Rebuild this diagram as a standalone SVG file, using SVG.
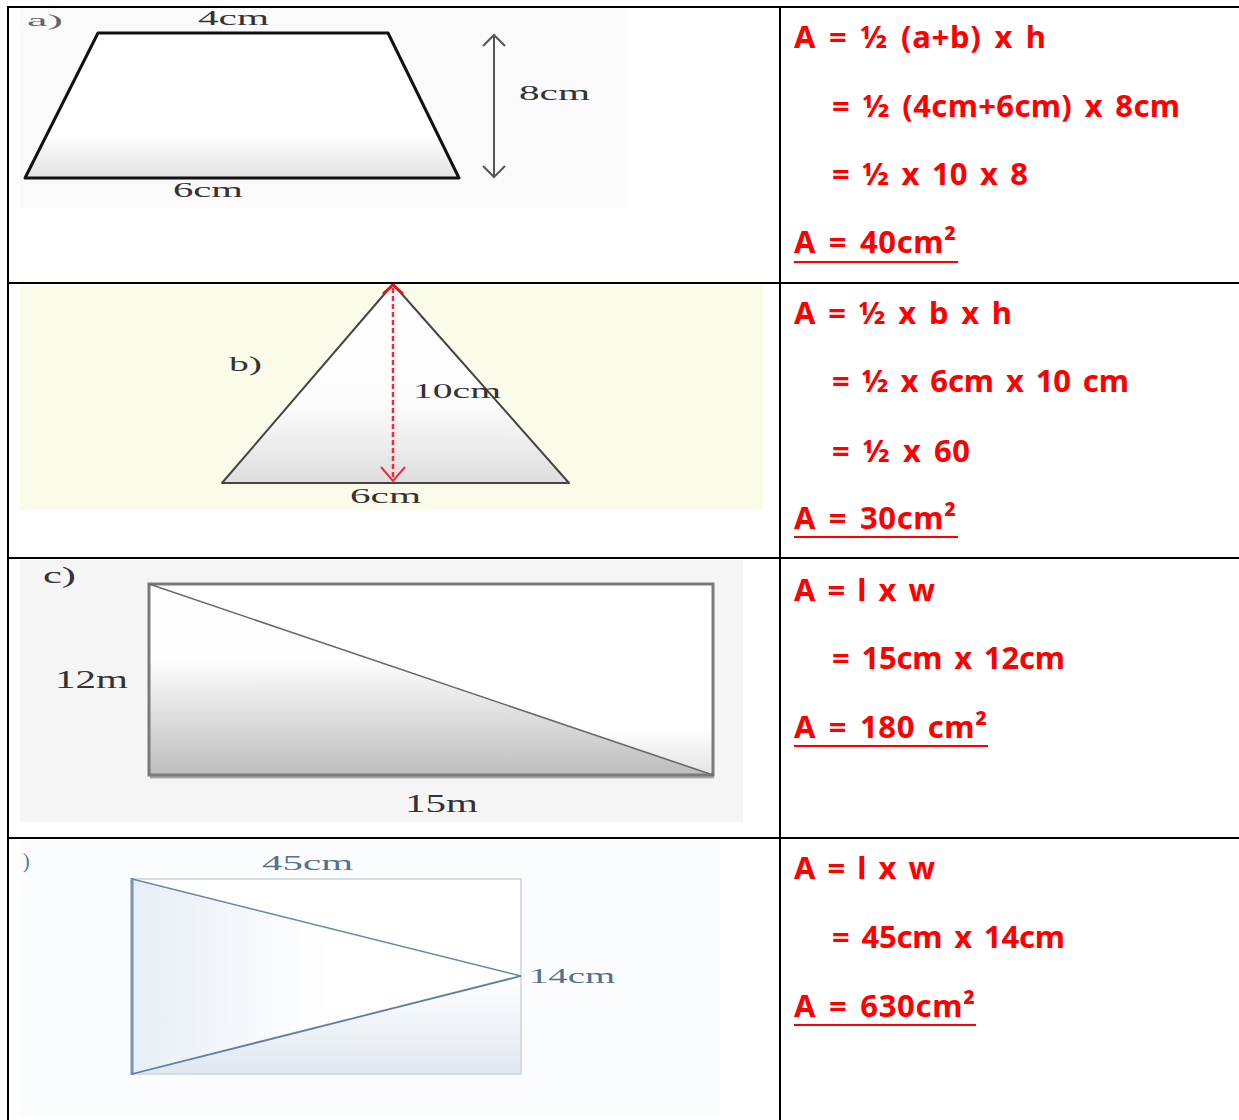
<svg xmlns="http://www.w3.org/2000/svg" width="1239" height="1120" viewBox="0 0 1239 1120">
<style>
.sol{font-family:"Noto Sans","Open Sans",sans-serif;font-weight:bold;font-size:31px;fill:#ff0000;word-spacing:4px}
.ul{stroke:#ff0000;stroke-width:2.2}
.lbl{font-family:"Liberation Serif","DejaVu Serif",serif;fill:#333}
.grid{stroke:#000;stroke-width:2;fill:none}
</style>
<defs>
<linearGradient id="gA" x1="0" y1="0" x2="0" y2="1">
<stop offset="0" stop-color="#fff"/><stop offset="0.7" stop-color="#fff"/><stop offset="1" stop-color="#e2e2e2"/>
</linearGradient>
<linearGradient id="gB" x1="0" y1="0" x2="0" y2="1">
<stop offset="0" stop-color="#fff"/><stop offset="0.6" stop-color="#fcfcfc"/><stop offset="1" stop-color="#dedede"/>
</linearGradient>
<linearGradient id="gC" gradientUnits="userSpaceOnUse" x1="0" y1="584" x2="0" y2="775">
<stop offset="0" stop-color="#fff"/><stop offset="0.4" stop-color="#fdfdfd"/><stop offset="1" stop-color="#bdbdbd"/>
</linearGradient>
<linearGradient id="gC2" gradientUnits="userSpaceOnUse" x1="0" y1="584" x2="0" y2="775">
<stop offset="0" stop-color="#fff"/><stop offset="0.75" stop-color="#fff"/><stop offset="1" stop-color="#e4e4e4"/>
</linearGradient>
<linearGradient id="gD1" gradientUnits="userSpaceOnUse" x1="132" y1="0" x2="330" y2="0">
<stop offset="0" stop-color="#e8eef6"/><stop offset="1" stop-color="#fff"/>
</linearGradient>
<linearGradient id="gD2" gradientUnits="userSpaceOnUse" x1="0" y1="976" x2="0" y2="1074">
<stop offset="0" stop-color="#fff"/><stop offset="1" stop-color="#e0e7ef"/>
</linearGradient>
</defs>

<rect width="1239" height="1120" fill="#fff"/>

<g id="shape-a">
<rect x="20" y="8" width="605" height="200" fill="#fafafa"/>
<polygon points="98,33 388,33 459,178 25,178" fill="url(#gA)" stroke="#111" stroke-width="3" stroke-linejoin="round"/>
<line x1="494" y1="35" x2="494" y2="177" stroke="#555" stroke-width="2"/>
<polyline points="483,46 494,35 505,46" fill="none" stroke="#555" stroke-width="2"/>
<polyline points="483,166 494,177 505,166" fill="none" stroke="#555" stroke-width="2"/>
<text class="lbl" x="27" y="26" font-size="17" textLength="36" lengthAdjust="spacingAndGlyphs" style="fill:#666">a)</text>
<text class="lbl" x="198" y="25" font-size="20" textLength="71" lengthAdjust="spacingAndGlyphs">4cm</text>
<text class="lbl" x="173" y="197" font-size="20" textLength="70" lengthAdjust="spacingAndGlyphs">6cm</text>
<text class="lbl" x="519" y="100" font-size="20" textLength="71" lengthAdjust="spacingAndGlyphs">8cm</text>
</g>

<g id="shape-b">
<rect x="20" y="285" width="743" height="225" fill="#fbfbe9"/>
<polygon points="393,284 569,483 222,483" fill="url(#gB)" stroke="#444" stroke-width="2" stroke-linejoin="round"/>
<line x1="393" y1="288" x2="393" y2="480" stroke="#e8303a" stroke-width="2.5" stroke-dasharray="5,3"/>
<polyline points="383,294 393,285 403,294" fill="none" stroke="#e8101a" stroke-width="3"/>
<polyline points="381,467 393,481 405,467" fill="none" stroke="#e8303a" stroke-width="2"/>
<text class="lbl" x="229" y="371" font-size="20" textLength="33" lengthAdjust="spacingAndGlyphs">b)</text>
<text class="lbl" x="413" y="398" font-size="20" textLength="88" lengthAdjust="spacingAndGlyphs">10cm</text>
<text class="lbl" x="350" y="503" font-size="20" textLength="71" lengthAdjust="spacingAndGlyphs">6cm</text>
</g>

<g id="shape-c">
<rect x="20" y="560" width="723" height="262" fill="#f5f5f5"/>
<rect x="149" y="584" width="564" height="191" fill="url(#gC)"/>
<polygon points="149,584 713,584 713,775" fill="url(#gC2)"/>
<line x1="150" y1="777" x2="714" y2="777" stroke="#aaa" stroke-width="3"/>
<rect x="149" y="584" width="564" height="191" fill="none" stroke="#7a7a7a" stroke-width="3"/>
<line x1="149" y1="584" x2="713" y2="775" stroke="#6a6a6a" stroke-width="1.6"/>
<text class="lbl" x="43" y="583" font-size="24" textLength="33" lengthAdjust="spacingAndGlyphs">c)</text>
<text class="lbl" x="55" y="688" font-size="25" textLength="73" lengthAdjust="spacingAndGlyphs">12m</text>
<text class="lbl" x="405" y="812" font-size="25" textLength="73" lengthAdjust="spacingAndGlyphs">15m</text>
</g>

<g id="shape-d">
<rect x="20" y="840" width="700" height="276" fill="#fbfcfe"/>
<rect x="132" y="879" width="389" height="195" fill="#fff"/>
<polygon points="132,879 521,976 132,1074" fill="url(#gD1)"/>
<polygon points="132,1074 521,976 521,1074" fill="url(#gD2)"/>
<rect x="132" y="879" width="389" height="195" fill="none" stroke="#c8d3df" stroke-width="1.5"/>
<line x1="132" y1="878" x2="132" y2="1075" stroke="#7396bd" stroke-width="3"/>
<line x1="132" y1="879" x2="521" y2="976" stroke="#6a86a4" stroke-width="1.4"/>
<line x1="132" y1="1074" x2="521" y2="976" stroke="#5d7ea2" stroke-width="1.8"/>
<text class="lbl" x="23" y="868" font-size="20" style="fill:#55708e">)</text>
<text class="lbl" x="262" y="870" font-size="21" textLength="91" lengthAdjust="spacingAndGlyphs" style="fill:#56708c">45cm</text>
<text class="lbl" x="529" y="983" font-size="21" textLength="86" lengthAdjust="spacingAndGlyphs" style="fill:#56708c">14cm</text>
</g>

<g id="grid" class="grid">
<line x1="7" y1="7" x2="1239" y2="7"/>
<line x1="7" y1="283" x2="1239" y2="283"/>
<line x1="7" y1="558" x2="1239" y2="558"/>
<line x1="7" y1="838" x2="1239" y2="838"/>
<line x1="8" y1="6" x2="8" y2="1120"/>
<line x1="780" y1="6" x2="780" y2="1120"/>
</g>

<g id="solution-a">
<text class="sol" x="794" y="48" textLength="252" lengthAdjust="spacing">A = ½ (a+b) x h</text>
<text class="sol" x="832" y="117" textLength="348" lengthAdjust="spacing">= ½ (4cm+6cm) x 8cm</text>
<text class="sol" x="832" y="185" textLength="196" lengthAdjust="spacing">= ½ x 10 x 8</text>
<text class="sol" x="794" y="253" textLength="162" lengthAdjust="spacing">A = 40cm²</text>
<line class="ul" x1="794" y1="262" x2="958" y2="262"/>
</g>

<g id="solution-b">
<text class="sol" x="794" y="324" textLength="218" lengthAdjust="spacing">A = ½ x b x h</text>
<text class="sol" x="832" y="392" textLength="297" lengthAdjust="spacing">= ½ x 6cm x 10 cm</text>
<text class="sol" x="832" y="462" textLength="138" lengthAdjust="spacing">= ½ x 60</text>
<text class="sol" x="794" y="529" textLength="162" lengthAdjust="spacing">A = 30cm²</text>
<line class="ul" x1="794" y1="537" x2="958" y2="537"/>
</g>

<g id="solution-c">
<text class="sol" x="794" y="601" textLength="141" lengthAdjust="spacing">A = l x w</text>
<text class="sol" x="832" y="669" textLength="233" lengthAdjust="spacing">= 15cm x 12cm</text>
<text class="sol" x="794" y="738" textLength="193" lengthAdjust="spacing">A = 180 cm²</text>
<line class="ul" x1="794" y1="746" x2="988" y2="746"/>
</g>

<g id="solution-d">
<text class="sol" x="794" y="879" textLength="141" lengthAdjust="spacing">A = l x w</text>
<text class="sol" x="832" y="948" textLength="233" lengthAdjust="spacing">= 45cm x 14cm</text>
<text class="sol" x="794" y="1017" textLength="181" lengthAdjust="spacing">A = 630cm²</text>
<line class="ul" x1="794" y1="1025" x2="976" y2="1025"/>
</g>
</svg>
